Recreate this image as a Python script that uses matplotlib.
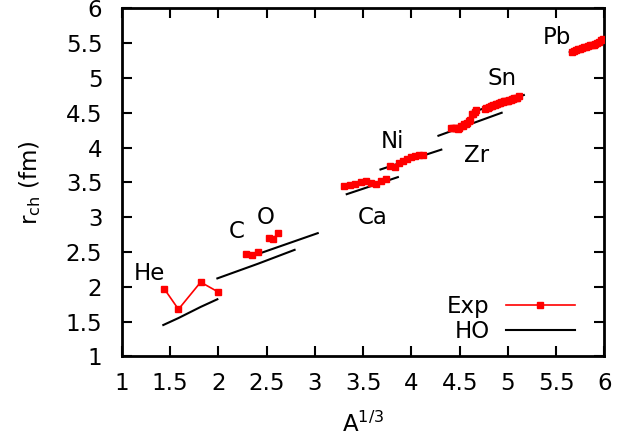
import numpy as np
import matplotlib
matplotlib.use("Agg")
import matplotlib.pyplot as plt

plt.rcParams['font.family'] = ['DejaVu Sans']
plt.rcParams['mathtext.fontset'] = 'dejavusans'

# experimental charge radii, x = A^(1/3), y = r_ch (fm)
he_x = [1.442, 1.587, 1.817, 2.000]
he_y = [1.966, 1.676, 2.066, 1.924]
c_x = [2.289, 2.351, 2.410]
c_y = [2.470, 2.461, 2.503]
o_x = [2.520, 2.571, 2.621]
o_y = [2.699, 2.693, 2.773]
ca_x = [3.302, 3.362, 3.420, 3.476, 3.530, 3.583, 3.634, 3.684, 3.733]
ca_y = [3.448, 3.467, 3.478, 3.508, 3.518, 3.495, 3.477, 3.523, 3.553]
ni_x = [3.780, 3.826, 3.871, 3.915, 3.958, 4.000, 4.041, 4.082, 4.121]
ni_y = [3.738, 3.723, 3.776, 3.812, 3.840, 3.859, 3.872, 3.887, 3.899]
zr_x = [4.414, 4.431, 4.448, 4.465, 4.481, 4.498, 4.514, 4.531, 4.547,
        4.563, 4.579, 4.595, 4.610, 4.626, 4.642, 4.657, 4.672]
zr_y = [4.280, 4.279, 4.283, 4.277, 4.269, 4.285, 4.306, 4.309, 4.332,
        4.336, 4.351, 4.379, 4.401, 4.483, 4.489, 4.510, 4.535]
sn_x = [4.762, 4.776, 4.791, 4.806, 4.820, 4.835, 4.849, 4.863, 4.877,
        4.891, 4.905, 4.919, 4.932, 4.946, 4.960, 4.973, 4.987, 5.000,
        5.013, 5.027, 5.040, 5.053, 5.066, 5.079, 5.092, 5.117]
sn_y = [4.561, 4.565, 4.571, 4.576, 4.592, 4.598, 4.606, 4.612, 4.625,
        4.625, 4.639, 4.639, 4.652, 4.655, 4.663, 4.666, 4.674, 4.676,
        4.685, 4.688, 4.697, 4.699, 4.708, 4.710, 4.719, 4.740]
pb_x = [5.667, 5.687, 5.708, 5.729, 5.749, 5.769, 5.789, 5.809, 5.828,
        5.848, 5.867, 5.887, 5.906, 5.925, 5.944, 5.963, 5.981]
pb_y = [5.379, 5.392, 5.400, 5.411, 5.420, 5.431, 5.442, 5.449, 5.459,
        5.469, 5.479, 5.480, 5.490, 5.501, 5.521, 5.540, 5.558]

# harmonic oscillator estimates
ho_he_x = [1.43, 1.587, 1.817, 1.99]
ho_he_y = [1.45, 1.55, 1.71, 1.82]
ho_c_x = [1.99, 2.41, 2.79]
ho_c_y = [2.12, 2.33, 2.53]
ho_o_x = [2.41, 3.03]
ho_o_y = [2.47, 2.77]
ho_ca_x = [3.33, 3.86]
ho_ca_y = [3.33, 3.575]
ho_ni_x = [3.68, 4.31]
ho_ni_y = [3.685, 3.97]
ho_zr_x = [4.28, 4.935]
ho_zr_y = [4.17, 4.50]
ho_sn_x = [4.68, 5.165]
ho_sn_y = [4.53, 4.755]
ho_pb_x = [5.64, 6.0]
ho_pb_y = [5.37, 5.565]

labels = ['He', 'C', 'O', 'Ca', 'Ni', 'Zr', 'Sn', 'Pb']
label_x = [1.29, 2.19, 2.49, 3.60, 3.80, 4.67, 4.94, 5.51]
label_y = [2.19, 2.79, 2.99, 2.99, 4.08, 3.88, 4.99, 5.58]

exp_sets = [(he_x, he_y), (c_x, c_y), (o_x, o_y), (ca_x, ca_y), (ni_x, ni_y),
            (zr_x, zr_y), (sn_x, sn_y), (pb_x, pb_y)]
ho_sets = [(ho_he_x, ho_he_y), (ho_c_x, ho_c_y), (ho_o_x, ho_o_y),
           (ho_ca_x, ho_ca_y), (ho_ni_x, ho_ni_y), (ho_zr_x, ho_zr_y),
           (ho_sn_x, ho_sn_y), (ho_pb_x, ho_pb_y)]

fs = 16.5
fig = plt.figure(figsize=(6.41, 4.41), dpi=100)
ax = fig.add_axes([0.19, 0.192, 0.753, 0.789])

for i, (x, y) in enumerate(ho_sets):
    ax.plot(x, y, '-', color='black', lw=1.5, label='HO' if i == 0 else None, zorder=2)
for i, (x, y) in enumerate(exp_sets):
    ax.plot(x, y, '-s', color='#ff0000', lw=1.2, ms=4.3, mec='#ff0000',
            label='Exp' if i == 0 else None, zorder=3)

for t, lx, ly in zip(labels, label_x, label_y):
    ax.text(lx, ly, t, fontsize=fs, ha='center', va='center')

ax.set_xlim(1, 6)
ax.set_ylim(1, 6)
ticks = np.arange(1, 6.01, 0.5)
ticklabels = ['1', '1.5', '2', '2.5', '3', '3.5', '4', '4.5', '5', '5.5', '6']
ax.set_xticks(ticks)
ax.set_yticks(ticks)
ax.set_xticklabels(ticklabels)
ax.set_yticklabels(ticklabels)
ax.tick_params(direction='in', length=7, width=1.5, top=True, right=True,
               labelsize=fs)
ax.tick_params(axis='x', pad=11)
ax.tick_params(axis='y', pad=14)
for s in ax.spines.values():
    s.set_linewidth(2)

ax.set_xlabel(r'A$^{1/3}$', fontsize=fs, labelpad=12)
ax.set_ylabel(r'r$_{\mathrm{ch}}$ (fm)', fontsize=fs, labelpad=16)

handles, lbls = ax.get_legend_handles_labels()
order = [lbls.index('Exp'), lbls.index('HO')]
ax.legend([handles[k] for k in order], [lbls[k] for k in order],
          loc='lower right', frameon=False, markerfirst=False, numpoints=1,
          fontsize=fs, handlelength=3.0, handletextpad=0.7, labelspacing=0.1,
          borderaxespad=0.0, bbox_to_anchor=(0.957, 0.012))

fig.savefig('out.png', dpi=100)
